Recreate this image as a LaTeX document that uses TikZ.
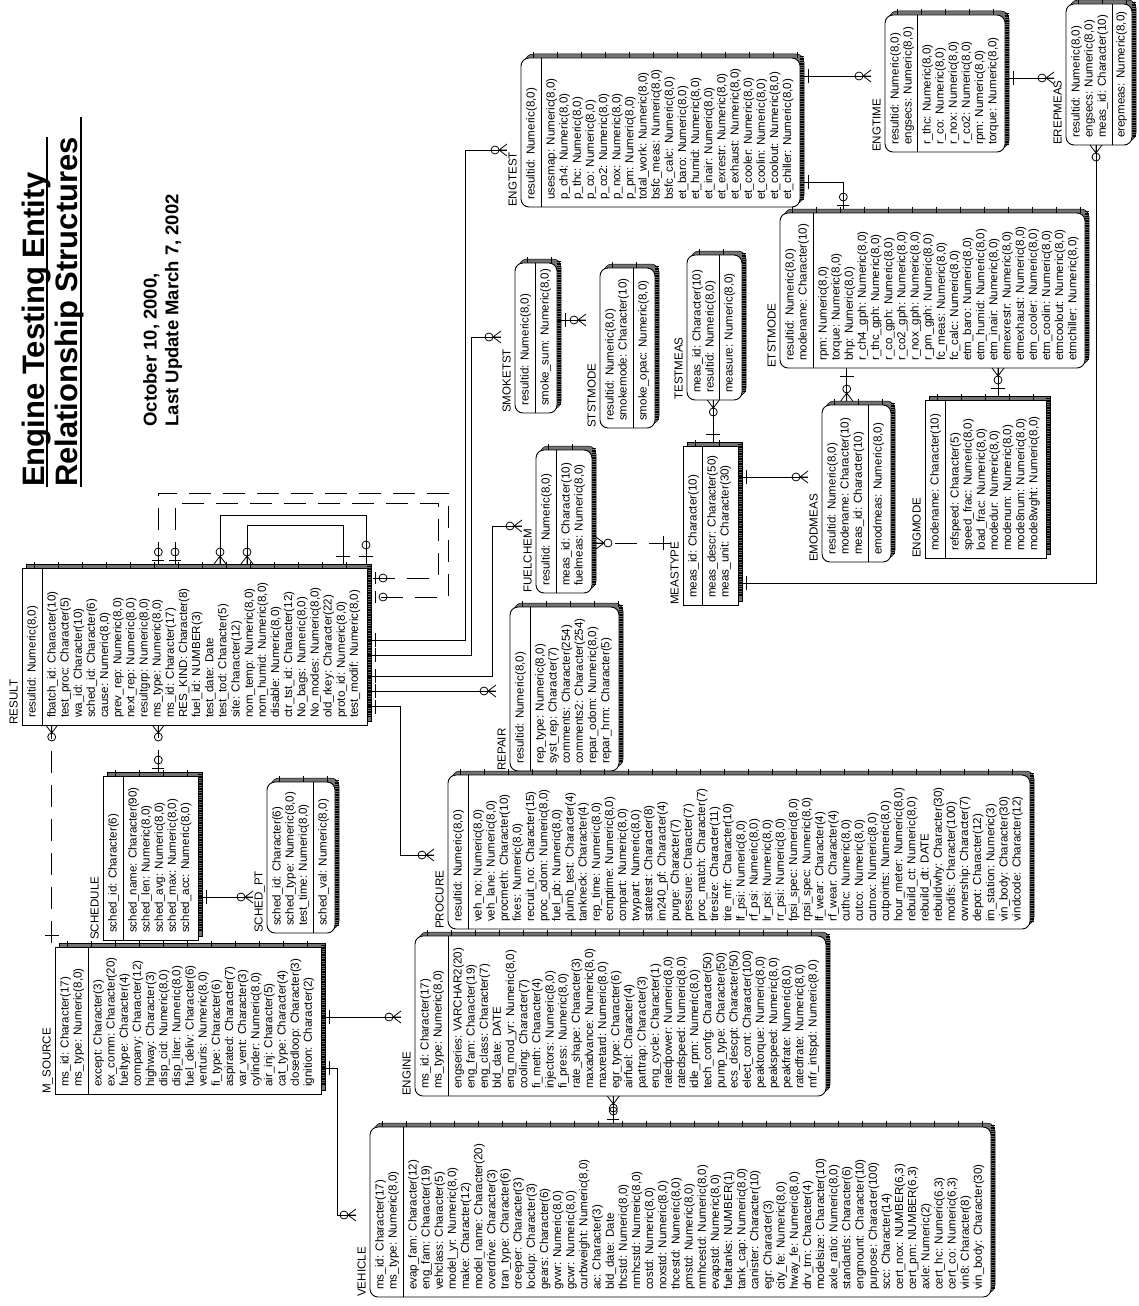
\documentclass[tikz,border=0pt]{standalone}
\usepackage{fontspec}
\setmainfont{Liberation Sans}
\tikzset{
  fld/.style={rotate=90, anchor=base west, inner sep=0pt, font=\fontsize{11.6}{13}\selectfont},
  ttl/.style={rotate=90, anchor=base west, inner sep=0pt, font=\fontsize{31}{36}\selectfont\bfseries},
  dte/.style={rotate=90, anchor=base west, inner sep=0pt, font=\fontsize{18.5}{22}\selectfont\bfseries},
  conn/.style={line width=0.8pt},
  dconn/.style={line width=0.8pt, dash pattern=on 22pt off 12pt},
  shadowbox/.style={fill=black!55, draw=black, line width=0.5pt},
  entbox/.style={fill=white, draw=black, line width=0.9pt},
  entline/.style={line width=0.9pt}
}
\newcommand{\EntBox}[8]{%
  \path[shadowbox, rounded corners=#7] (#2+4,#5-4) rectangle (#4+4,#6-4);
  \draw[line width=6pt, dash pattern=on 0.8pt off 23.2pt] (#2+12,#5-3) -- (#4,#5-3);
  \draw[line width=3.4pt, dash pattern=on 0.5pt off 1.2pt] (#4+2,#5-2) -- (#4+2,#6-8);
  \path[entbox, rounded corners=#7] (#2,#5) rectangle (#4,#6);
  \draw[entline] (#3,#5) -- (#3,#6);
  \node[fld] (#1lbl) at (#2-4.5,#6) {#8};
}
\newcommand{\EntFields}[6]{%
  \foreach \t [count=\i from 0] in {#5} {\node[fld] (#1k\i) at ({#2+13.5+\i*13.15},{#4-7}) {\t};}
  \foreach \t [count=\i from 0] in {#6} {\node[fld] (#1b\i) at ({#3+13.5+\i*13.15},{#4-7}) {\t};}
}
\newcommand{\Crow}[2]{\begin{scope}[shift={(#1)}, rotate=#2]
  \draw[conn] (-8,0) -- (0,6) (-8,0) -- (0,-6) (-8,0) -- (0,0);
  \draw[conn] (-12,0) circle[radius=4];
\end{scope}}
\newcommand{\PBar}[2]{\begin{scope}[shift={(#1)}, rotate=#2]
  \draw[conn] (-8,-7) -- (-8,7);
\end{scope}}
\newcommand{\ZOne}[2]{\begin{scope}[shift={(#1)}, rotate=#2]
  \draw[conn] (-4,-6) -- (-4,6);
  \draw[conn] (-12,0) circle[radius=4];
\end{scope}}
\begin{document}
\begin{tikzpicture}[x=1pt,y=-1pt]
\useasboundingbox[fill=white] (0,0) rectangle (1138,1306);

% ---------- title ----------
\node[ttl] (title1) at (44,487) {Engine Testing Entity};
\node[ttl] (title2) at (77.5,487) {Relationship Structures};
\draw[line width=2pt] (47,487) -- (47,137);
\draw[line width=2pt] (80.5,487) -- (80.5,117);
\node[dte] (date1) at (156.7,426.7) {October 10, 2000,};
\node[dte] (date2) at (178.3,426.7) {Last Update March 7, 2002};

% ---------- entities ----------
\EntBox{engtest}{521}{541}{800}{58}{207}{8}{ENGTEST}
\EntFields{engtest}{521}{541}{207}{{resultid: Numeric(8,0)}}{{usesmap: Numeric(8,0)},{p\_ch4: Numeric(8,0)},{p\_thc: Numeric(8,0)},{p\_co: Numeric(8,0)},{p\_co2: Numeric(8,0)},{p\_nox: Numeric(8,0)},{p\_pm: Numeric(8,0)},{total\_work: Numeric(8,0)},{bsfc\_meas: Numeric(8,0)},{bsfc\_calc: Numeric(8,0)},{et\_baro: Numeric(8,0)},{et\_humid: Numeric(8,0)},{et\_inair: Numeric(8,0)},{et\_exrestr: Numeric(8,0)},{et\_exhaust: Numeric(8,0)},{et\_cooler: Numeric(8,0)},{et\_coolin: Numeric(8,0)},{et\_coolout: Numeric(8,0)},{et\_chiller: Numeric(8,0)}}

\EntBox{engtime}{885}{917}{1005}{15}{152}{8}{ENGTIME}
\EntFields{engtime}{885}{917}{152}{{resultid: Numeric(8,0)},{engsecs: Numeric(8,0)}}{{r\_thc: Numeric(8,0)},{r\_co: Numeric(8,0)},{r\_nox: Numeric(8,0)},{r\_co2: Numeric(8,0)},{rpm: Numeric(8,0)},{torque: Numeric(8,0)}}

\EntBox{erepmeas}{1066}{1112}{1132}{4}{145}{8}{EREPMEAS}
\EntFields{erepmeas}{1066}{1111}{145}{{resultid: Numeric(8,0)},{engsecs: Numeric(8,0)},{meas\_id: Character(10)}}{{erepmeas: Numeric(8,0)}}

\EntBox{smoketst}{515}{535}{557}{263}{413}{8}{SMOKETST}
\EntFields{smoketst}{515}{535}{413}{{resultid: Numeric(8,0)}}{{smoke\_sum: Numeric(8,0)}}

\EntBox{ststmode}{600}{633}{655}{268}{428}{8}{STSTMODE}
\EntFields{ststmode}{600}{633}{428}{{resultid: Numeric(8,0)},{smokemode: Character(10)}}{{smoke\_opac: Numeric(8,0)}}

\EntBox{testmeas}{687}{719}{742}{255}{400}{8}{TESTMEAS}
\EntFields{testmeas}{687}{719}{400}{{meas\_id: Character(10)},{resultid: Numeric(8,0)}}{{measure: Numeric(8,0)}}

\EntBox{etstmode}{780}{813}{1085}{213}{368}{8}{ETSTMODE}
\EntFields{etstmode}{780}{813}{368}{{resultid: Numeric(8,0)},{modename: Character(10)}}{{rpm: Numeric(8,0)},{torque: Numeric(8,0)},{bhp: Numeric(8,0)},{r\_ch4\_gph: Numeric(8,0)},{r\_thc\_gph: Numeric(8,0)},{r\_co\_gph: Numeric(8,0)},{r\_co2\_gph: Numeric(8,0)},{r\_nox\_gph: Numeric(8,0)},{r\_pm\_gph: Numeric(8,0)},{fc\_meas: Numeric(8,0)},{fc\_calc: Numeric(8,0)},{etm\_baro: Numeric(8,0)},{etm\_humid: Numeric(8,0)},{etm\_inair: Numeric(8,0)},{etmexrestr: Numeric(8,0)},{etmexhaust: Numeric(8,0)},{etm\_cooler: Numeric(8,0)},{etm\_coolin: Numeric(8,0)},{etmcoolout: Numeric(8,0)},{etmchiller: Numeric(8,0)}}

\EntBox{fuelchem}{536}{556}{592}{450}{593}{8}{FUELCHEM}
\EntFields{fuelchem}{536}{556}{593}{{resultid: Numeric(8,0)}}{{meas\_id: Character(10)},{fuelmeas: Numeric(8,0)}}

\EntBox{meastype}{683}{702}{738}{446}{605}{0}{MEASTYPE}
\EntFields{meastype}{683}{702}{605}{{meas\_id: Character(10)}}{{meas\_descr: Character(50)},{meas\_unit: Character(30)}}

\EntBox{emodmeas}{822}{868}{891}{405}{562}{8}{EMODMEAS}
\EntFields{emodmeas}{822}{868}{562}{{resultid: Numeric(8,0)},{modename: Character(10)},{meas\_id: Character(10)}}{{emodmeas: Numeric(8,0)}}

\EntBox{engmode}{925}{945}{1046}{400}{558}{0}{ENGMODE}
\EntFields{engmode}{925}{945}{558}{{modename: Character(10)}}{{refspeed: Character(5)},{speed\_frac: Numeric(8,0)},{load\_frac: Numeric(8,0)},{modedur: Numeric(8,0)},{modenum: Numeric(8,0)},{mode8num: Numeric(8,0)},{mode8wght: Numeric(8,0)}}

\EntBox{result}{22}{42}{367}{568}{725}{0}{RESULT}
\EntFields{result}{22}{42}{725}{{resultid: Numeric(8,0)}}{{fbatch\_id: Character(10)},{test\_proc: Character(5)},{wa\_id: Character(10)},{sched\_id: Character(6)},{cause: Numeric(8,0)},{prev\_rep: Numeric(8,0)},{next\_rep: Numeric(8,0)},{resultgrp: Numeric(8,0)},{ms\_type: Numeric(8,0)},{ms\_id: Character(17)},{RES\_KIND: Character(8)},{fuel\_id: NUMBER(3)},{test\_date: Date},{test\_tod: Character(5)},{site: Character(12)},{nom\_temp: Numeric(8,0)},{nom\_humid: Numeric(8,0)},{disable: Numeric(8,0)},{ctr\_tst\_id: Character(12)},{No\_bags: Numeric(8,0)},{No\_modes: Numeric(8,0)},{old\_rkey: Character(22)},{proto\_id: Numeric(8,0)},{test\_modif: Numeric(8,0)}}

\EntBox{repair}{510}{530}{619}{607}{771}{8}{REPAIR}
\EntFields{repair}{510}{530}{771}{{resultid: Numeric(8,0)}}{{rep\_type: Numeric(8,0)},{syst\_rep: Character(7)},{comments: Character(254)},{comments2: Character(254)},{repar\_odom: Numeric(8,0)},{repar\_hrm: Character(5)}}

\EntBox{procure}{448}{468}{1030}{775}{929}{8}{PROCURE}
\EntFields{procure}{448}{468}{929}{{resultid: Numeric(8,0)}}{{veh\_no: Numeric(8,0)},{veh\_lane: Numeric(8,0)},{procmeth: Character(10)},{fixes: Numeric(8,0)},{recruit\_no: Character(15)},{proc\_odom: Numeric(8,0)},{fuel\_pb: Numeric(8,0)},{plumb\_test: Character(4)},{tankneck: Character(4)},{rep\_time: Numeric(8,0)},{ecmptime: Numeric(8,0)},{conpart: Numeric(8,0)},{twypart: Numeric(8,0)},{statetest: Character(8)},{im240\_pf: Character(4)},{purge: Character(7)},{pressure: Character(7)},{proc\_match: Character(7)},{tiresize: Character(11)},{tire\_mfr: Character(10)},{lf\_psi: Numeric(8,0)},{rf\_psi: Numeric(8,0)},{lr\_psi: Numeric(8,0)},{rr\_psi: Numeric(8,0)},{fpsi\_spec: Numeric(8,0)},{rpsi\_spec: Numeric(8,0)},{lf\_wear: Character(4)},{rf\_wear: Character(4)},{cuthc: Numeric(8,0)},{cutco: Numeric(8,0)},{cutnox: Numeric(8,0)},{cutpoints: Numeric(8,0)},{hour\_meter: Numeric(8,0)},{rebuild\_ct: Numeric(8,0)},{rebuild\_dt: DATE},{rebuildwhy: Character(30)},{modifs: Character(100)},{ownership: Character(7)},{depot: Character(12)},{im\_station: Numeric(3)},{vin\_body: Character(30)},{vindcode: Character(12)}}

\EntBox{schedule}{103}{123}{198}{776}{940}{0}{SCHEDULE}
\EntFields{schedule}{103}{123}{940}{{sched\_id: Character(6)}}{{sched\_name: Character(90)},{sched\_len: Numeric(8,0)},{sched\_avg: Numeric(8,0)},{sched\_max: Numeric(8,0)},{sched\_acc: Numeric(8,0)}}

\EntBox{schedpt}{267}{313}{335}{782}{933}{8}{SCHED\_PT}
\EntFields{schedpt}{267}{313}{933}{{sched\_id: Character(6)},{sched\_type: Numeric(8,0)},{test\_time: Numeric(8,0)}}{{sched\_val: Numeric(8,0)}}

\EntBox{msource}{55}{88}{321}{947}{1094}{0}{M\_SOURCE}
\EntFields{msource}{55}{88}{1094}{{ms\_id: Character(17)},{ms\_type: Numeric(8,0)}}{{except: Character(3)},{ex\_comm: Character(20)},{fueltype: Character(4)},{company: Character(12)},{highway: Character(3)},{disp\_cid: Numeric(8,0)},{disp\_liter: Numeric(8,0)},{fuel\_deliv: Character(6)},{venturis: Numeric(8,0)},{fi\_type: Character(6)},{aspirated: Character(7)},{var\_vent: Character(3)},{cylinder: Numeric(8,0)},{air\_inj: Character(5)},{cat\_type: Character(4)},{closedloop: Character(3)},{ignition: Character(2)}}

\EntBox{engine}{415}{448}{826}{936}{1096}{8}{ENGINE}
\EntFields{engine}{415}{448}{1096}{{ms\_id: Character(17)},{ms\_type: Numeric(8,0)}}{{engseries: VARCHAR2(20)},{eng\_fam: Character(19)},{eng\_class: Character(7)},{bld\_date: DATE},{eng\_mod\_yr: Numeric(8,0)},{cooling: Character(7)},{fi\_meth: Character(4)},{injectors: Numeric(8,0)},{fi\_press: Numeric(8,0)},{rate\_shape: Character(3)},{maxadvance: Numeric(8,0)},{maxretard: Numeric(8,0)},{egr\_type: Character(6)},{airfuel: Character(4)},{parttrap: Character(3)},{eng\_cycle: Character(1)},{ratedpower: Numeric(8,0)},{ratedspeed: Numeric(8,0)},{idle\_rpm: Numeric(8,0)},{tech\_confg: Character(50)},{pump\_type: Character(50)},{ecs\_descpt: Character(50)},{elect\_cont: Character(100)},{peaktorque: Numeric(8,0)},{peakspeed: Numeric(8,0)},{peakfrate: Numeric(8,0)},{ratedfrate: Numeric(8,0)},{mfr\_intspd: Numeric(8,0)}}

\EntBox{vehicle}{370}{403}{991}{1127}{1297}{8}{VEHICLE}
\EntFields{vehicle}{370}{403}{1297}{{ms\_id: Character(17)},{ms\_type: Numeric(8,0)}}{{evap\_fam: Character(12)},{eng\_fam: Character(19)},{vehclass: Character(5)},{model\_yr: Numeric(8,0)},{make: Character(12)},{model\_name: Character(20)},{overdrive: Character(3)},{tran\_type: Character(6)},{creeper: Character(3)},{lockup: Character(3)},{gears: Character(6)},{gvwr: Numeric(8,0)},{gcwr: Numeric(8,0)},{curbweight: Numeric(8,0)},{ac: Character(3)},{bld\_date: Date},{thcstd: Numeric(8,0)},{nmhcstd: Numeric(8,0)},{costd: Numeric(8,0)},{noxstd: Numeric(8,0)},{thcestd: Numeric(8,0)},{pmstd: Numeric(8,0)},{nmhcestd: Numeric(8,0)},{evapstd: Numeric(8,0)},{fueltanks: NUMBER(1)},{tank\_cap: Numeric(8,0)},{canister: Character(10)},{egr: Character(3)},{city\_fe: Numeric(8,0)},{hway\_fe: Numeric(8,0)},{drv\_trn: Character(4)},{modelsize: Character(10)},{axle\_ratio: Numeric(8,0)},{standards: Character(6)},{engmount: Character(10)},{purpose: Character(100)},{scc: Character(14)},{cert\_nox: NUMBER(6,3)},{cert\_pm: NUMBER(6,3)},{axle: Numeric(2)},{cert\_hc: Numeric(6,3)},{cert\_co: Numeric(6,3)},{vin8: Character(8)},{vin\_body: Character(30)}}

% ---------- relationships ----------
% ENGTEST -> ENGTIME
\coordinate (r1a) at (800,76); \coordinate (r1b) at (871,76);
\draw[conn] (r1a) -- (r1b); \PBar{r1a}{180} \Crow{r1b}{0}
% ENGTEST -> ETSTMODE
\coordinate (r2a) at (800,182); \coordinate (r2b) at (843.3,209);
\draw[conn] (r2a) -| (r2b); \PBar{r2a}{180} \ZOne{r2b}{270}
% ENGTIME -> EREPMEAS
\coordinate (r3a) at (1005,78); \coordinate (r3b) at (1054,78);
\draw[conn] (r3a) -- (r3b); \PBar{r3a}{180} \Crow{r3b}{0}
% MEASTYPE -> EREPMEAS
\coordinate (r4a) at (738,583); \coordinate (r4b) at (1096,145);
\draw[conn] (r4a) -| (r4b); \PBar{r4a}{180} \Crow{r4b}{90}
% ETSTMODE -> EMODMEAS
\coordinate (r5a) at (846.7,368); \coordinate (r5b) at (846.7,401);
\draw[conn] (r5a) -- (r5b); \PBar{r5a}{90} \Crow{r5b}{270}
% ENGMODE -> ETSTMODE
\coordinate (r6a) at (998,396); \coordinate (r6b) at (998,368);
\draw[conn] (r6a) -- (r6b); \PBar{r6a}{270} \Crow{r6b}{90}
% MEASTYPE -> EMODMEAS
\coordinate (r7a) at (738,477); \coordinate (r7b) at (808,477);
\draw[conn] (r7a) -- (r7b); \PBar{r7a}{180} \Crow{r7b}{0}
% MEASTYPE -> FUELCHEM (dashed)
\coordinate (r8a) at (671,543); \coordinate (r8b) at (596,543);
\draw[dconn] (r8a) -- (r8b); \PBar{r8a}{0} \Crow{r8b}{180}
% MEASTYPE -> TESTMEAS
\coordinate (r9a) at (713.3,442); \coordinate (r9b) at (713.3,400);
\draw[conn] (r9a) -- (r9b); \PBar{r9a}{270} \Crow{r9b}{90}
% SMOKETST -> STSTMODE
\coordinate (r10a) at (557,320); \coordinate (r10b) at (586,320);
\draw[conn] (r10a) -- (r10b); \PBar{r10a}{180} \Crow{r10b}{0}
% RESULT -> ENGTEST
\coordinate (r11a) at (367,640); \coordinate (r11c) at (465,150); \coordinate (r11b) at (507,150);
\draw[conn] (r11a) -| (r11c) -- (r11b); \PBar{r11a}{180} \Crow{r11b}{0}
% RESULT -> SMOKETST
\coordinate (r12a) at (367,655); \coordinate (r12c) at (471.7,337); \coordinate (r12b) at (501,337);
\draw[conn] (r12a) -| (r12c) -- (r12b); \PBar{r12a}{180} \Crow{r12b}{0}
% RESULT -> FUELCHEM
\coordinate (r13a) at (367,676); \coordinate (r13c) at (492,526); \coordinate (r13b) at (522,526);
\draw[conn] (r13a) -| (r13c) -- (r13b); \PBar{r13a}{180} \Crow{r13b}{0}
% RESULT -> REPAIR
\coordinate (r14a) at (367,691); \coordinate (r14b) at (496,691);
\draw[conn] (r14a) -- (r14b); \PBar{r14a}{180} \Crow{r14b}{0}
% RESULT -> PROCURE
\coordinate (r15a) at (367,706.7); \coordinate (r15c) at (400,855); \coordinate (r15b) at (434,855);
\draw[conn] (r15a) -| (r15c) -- (r15b); \PBar{r15a}{180} \Crow{r15b}{0}
% M_SOURCE -> RESULT (dashed)
\coordinate (r16a) at (51.7,943); \coordinate (r16b) at (51.7,725);
\draw[dconn] (r16a) -- (r16b); \PBar{r16a}{270} \Crow{r16b}{90}
% SCHEDULE -> RESULT (dashed)
\coordinate (r17a) at (158.3,772); \coordinate (r17b) at (158.3,725);
\draw[dconn] (r17a) -- (r17b); \ZOne{r17a}{270} \Crow{r17b}{90}
% M_SOURCE -> ENGINE
\coordinate (r18a) at (321,1017); \coordinate (r18b) at (401,1017);
\draw[conn] (r18a) -- (r18b); \PBar{r18a}{180} \Crow{r18b}{0}
% M_SOURCE -> VEHICLE
\coordinate (r19a) at (321,1068); \coordinate (r19c) at (337.3,1215); \coordinate (r19b) at (356,1215);
\draw[conn] (r19a) -| (r19c) -- (r19b); \PBar{r19a}{180} \Crow{r19b}{0}
% SCHEDULE -> SCHED_PT
\coordinate (r20a) at (198,897); \coordinate (r20b) at (253,897);
\draw[conn] (r20a) -- (r20b); \PBar{r20a}{180} \Crow{r20b}{0}
% VEHICLE -> ENGINE
\coordinate (r21a) at (613.3,1123); \coordinate (r21b) at (613.3,1096);
\draw[conn] (r21a) -- (r21b); \ZOne{r21a}{270} \Crow{r21b}{90}
% RESULT self relationships
\coordinate (s1a) at (158.3,564); \coordinate (s1c) at (448,493); \coordinate (s1b) at (371,597);
\draw[dconn] (s1a) |- (s1c) |- (s1b); \ZOne{s1a}{270} \ZOne{s1b}{180}
\coordinate (s2a) at (175,564); \coordinate (s2c) at (438,503); \coordinate (s2b) at (371,578);
\draw[dconn] (s2a) |- (s2c) |- (s2b); \ZOne{s2a}{270} \ZOne{s2b}{180}
\coordinate (s3a) at (220,564); \coordinate (s3c) at (366,515); \coordinate (s3b) at (366,564);
\draw[conn] (s3a) |- (s3c) -- (s3b); \Crow{s3a}{270} \PBar{s3b}{270}
\draw[conn] (366,545) circle[radius=4];
\coordinate (s4a) at (247,564); \coordinate (s4c) at (343,525); \coordinate (s4b) at (343,564);
\draw[conn] (s4a) |- (s4c) -- (s4b); \Crow{s4a}{270} \PBar{s4b}{270}
\end{tikzpicture}
\end{document}
